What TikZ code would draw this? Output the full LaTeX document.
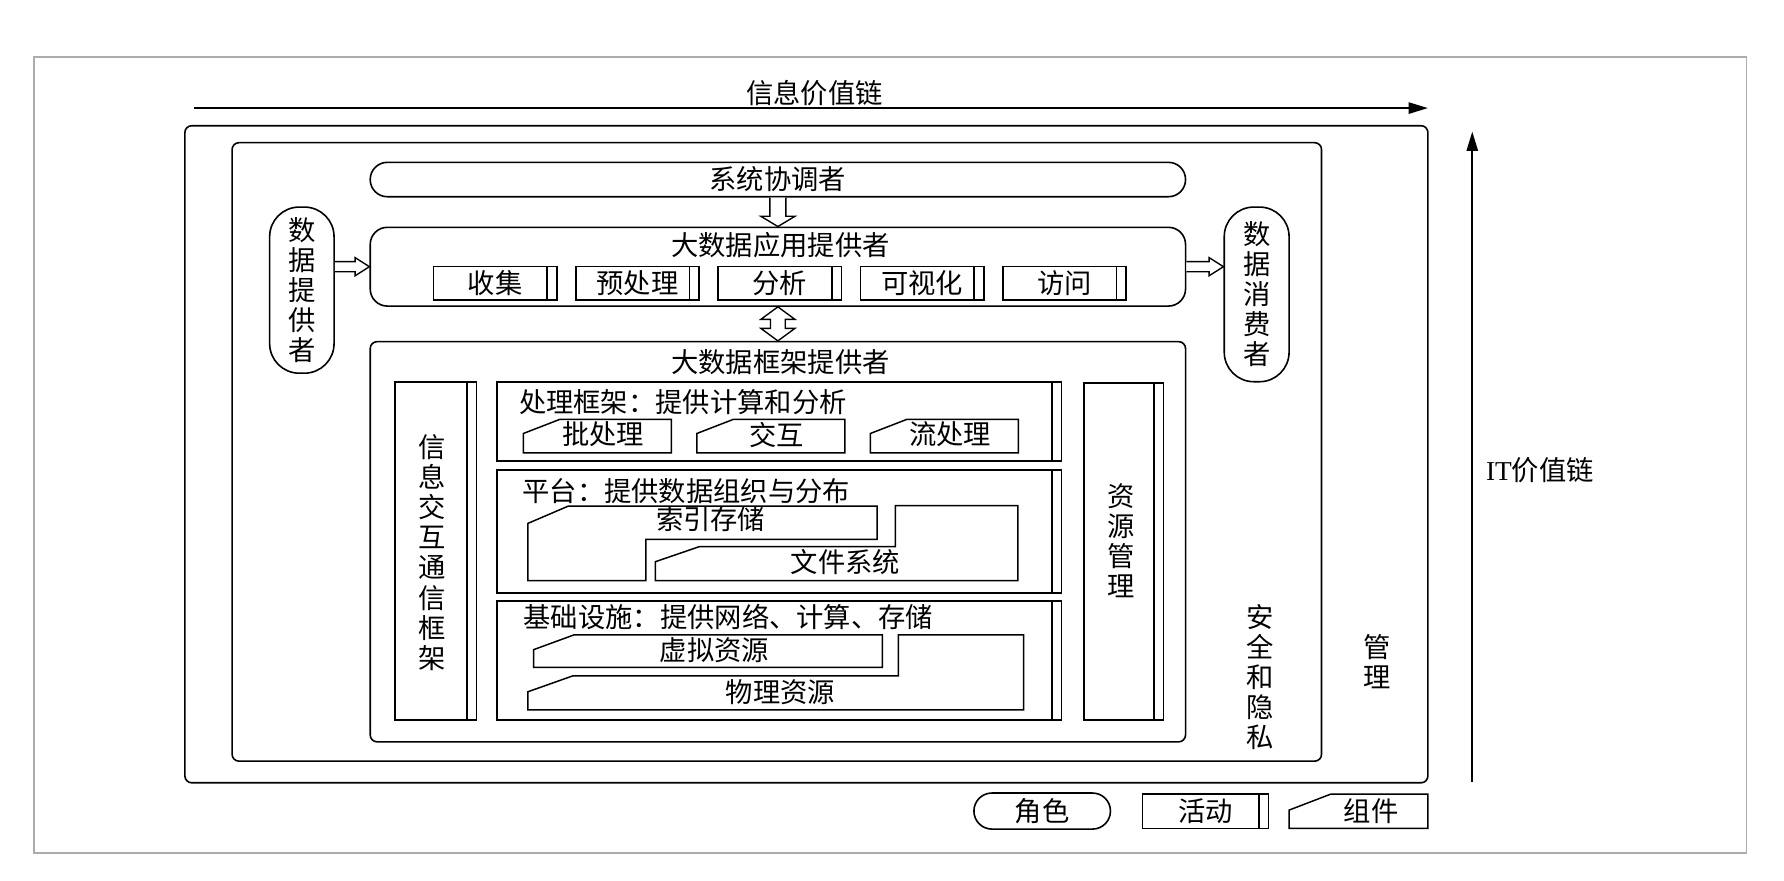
\documentclass[tikz,border=0pt]{standalone}
\usepackage{fontspec}
\setmainfont{Noto Sans CJK SC}
\newfontfamily\latinfont{Liberation Serif}
\usetikzlibrary{arrows.meta,calc,positioning}
\tikzset{%
  tipA/.tip={Triangle[length=17pt,width=10pt]},
  box/.style={draw, line width=1.4pt, inner sep=0pt},
  actbox/.style={box, path picture={\draw[line width=1.4pt] ([xshift=-8.5pt]path picture bounding box.north east) -- ([xshift=-8.5pt]path picture bounding box.south east);}},
  comp/.style={line width=1.3pt},
  hollow/.style={draw, fill=white, line width=1.2pt},
  txt/.style={inner sep=0pt},
  vtxt/.style={inner sep=0pt, align=center}
}

\begin{document}
\begin{tikzpicture}[x=1pt,y=-1pt,font=\fontsize{24}{26.4}\selectfont]
\useasboundingbox (0,0) rectangle (1568,773.5);
\draw[gray!65, line width=1.5pt] (30,50) rectangle (1535,750);
%\draw[help lines] (0,0) grid[step=100] (1568,773);
\coordinate (ivcL) at (170.5,95);
\coordinate (ivcR) at (1255,95);
\draw[line width=1.4pt, -tipA] (ivcL) -- (ivcR);
\node[txt] (ivc) at (716,82) {信息价值链};
\coordinate (itB) at (1294,687);
\coordinate (itT) at (1294,115.7);
\draw[line width=1.4pt, -tipA] (itB) -- (itT);
\node[txt, anchor=west] (itl) at (1306,413) {{\latinfont IT}价值链};
% nested frames
\node[box, rounded corners=6pt, minimum width=1092.5pt, minimum height=577.5pt] (mgmt) at (708.75,399.25) {};
\node[box, rounded corners=6pt, minimum width=957.5pt, minimum height=543.6pt] (sec) at (682.75,397.2) {};
\node[vtxt] (sectext) at (1107.5,594.8) {安\\全\\和\\隐\\私};
\node[vtxt] (mgmttext) at (1210,581.5) {管\\理};
\node[box, rounded corners=15pt, minimum width=716.6pt, minimum height=30.2pt] (sys) at (683.7,157.8) {系统协调者};
\node[box, rounded corners=15pt, minimum width=716.6pt, minimum height=69.2pt] (app) at (683.7,234.4) {};
\node[txt] (apptitle) at (686,215) {大数据应用提供者};
\foreach \i/\name/\lbl in {0/collect/收集, 1/prep/预处理, 2/analyse/分析, 3/visual/可视化, 4/access/访问}
  \node[actbox, minimum width=108.5pt, minimum height=29.3pt] (\name) at (435.25+125.1*\i,249) {\lbl};
\node[box, rounded corners=26pt, minimum width=56.6pt, minimum height=146pt, align=center] (dp) at (265.3,255) {数\\据\\提\\供\\者};
\node[box, rounded corners=26pt, minimum width=57pt, minimum height=153.5pt, align=center] (dc) at (1104.5,258.75) {数\\据\\消\\费\\者};
\node[box, rounded corners=6pt, minimum width=716.6pt, minimum height=351.7pt] (fw) at (683.7,476.15) {};
\node[txt] (fwtitle) at (686,318) {大数据框架提供者};
% framework inside
\node[actbox, minimum width=71.8pt, minimum height=297.5pt] (iex) at (382.9,484.25) {};
\node[vtxt] (iextext) at (379.4,485.7) {信\\息\\交\\互\\通\\信\\框\\架};
\node[actbox, minimum width=70.1pt, minimum height=296.6pt] (res) at (987.65,484.7) {};
\node[vtxt] (restext) at (985,475.5) {资\\源\\管\\理};
\node[actbox, minimum width=496pt, minimum height=69.5pt] (proc) at (685,370.25) {};
\node[actbox, minimum width=496pt, minimum height=108pt] (plat) at (685,467) {};
\node[actbox, minimum width=496pt, minimum height=105pt] (infra) at (685,580.5) {};
\node[txt, anchor=west] (proctitle) at (456,353) {处理框架：提供计算和分析};
\node[txt, anchor=west] (plattitle) at (459,432) {平台：提供数据组织与分布};
\node[txt, anchor=west] (infratitle) at (460,542) {基础设施：提供网络、计算、存储};
\foreach \x/\name/\lbl in {460/batch/批处理, 612.5/inter/交互, 765/stream/流处理} {
  \draw[comp] (\x,398) -- (\x,381) -- (\x+32,368.6) -- (\x+130,368.6) -- (\x+130,398) -- cycle;
  \node[txt] (\name) at (\x+70,382) {\lbl};
}
\draw[comp] (464,510.4) -- (464,460) -- (499.5,444.8) -- (771,444.8) -- (771,474) -- (567.6,474) -- (567.6,510.4) -- cycle;
\node[txt] (idx) at (624.6,456) {索引存储};
\draw[comp] (576,510.4) -- (576,493.7) -- (614.5,480.5) -- (787,480.5) -- (787,444.5) -- (894.6,444.5) -- (894.6,510.4) -- cycle;
\node[txt] (fs) at (743,494) {文件系统};
\draw[comp] (469,586.6) -- (469,571) -- (504.5,558) -- (775.5,558) -- (775.5,586.6) -- cycle;
\node[txt] (vres) at (628,571) {虚拟资源};
\draw[comp] (464,624) -- (464,608) -- (503.5,594) -- (789.6,594) -- (789.6,558) -- (899.6,558) -- (899.6,624) -- cycle;
\node[txt] (pres) at (686,608) {物理资源};
% hollow arrows
\draw[hollow] ($(sys.south)+(7,0)$) -- ($(app.north)+(7,-9)$) -- ++(8,0) -- (app.north) -- ++(-15,-9) -- ++(8,0) -- ($(sys.south)+(-7,0)$);
\draw[hollow] (app.south) -- ++(15,11) -- ++(-8.5,0) -- ($(fw.north)+(6.5,-11)$) -- ++(8.5,0) -- (fw.north) -- ++(-15,-11) -- ++(8.5,0) -- ($(app.south)+(-6.5,11)$) -- ++(-8.5,0) -- cycle;
\draw[hollow] ($(dp.east |- app.west)+(0,-4.5)$) -- ($(app.west)+(-12.6,-4.5)$) -- ++(0,-3.5) -- (app.west) -- ++(-12.6,8) -- ++(0,-3.5) -- ($(dp.east |- app.west)+(0,4.5)$);
\draw[hollow] ($(app.east)+(0,-4.5)$) -- ($(dc.west |- app.east)+(-12.6,-4.5)$) -- ++(0,-3.5) -- (dc.west |- app.east) -- ++(-12.6,8) -- ++(0,-3.5) -- ($(app.east)+(0,4.5)$);
% legend
\node[box, rounded corners=15.8pt, minimum width=120pt, minimum height=31.7pt] (keyrole) at (916,712.85) {角色};
\node[actbox, minimum width=111pt, minimum height=30pt] (keyact) at (1059.5,713) {活动};
\draw[comp] (1133,728) -- (1133,712) -- (1169.5,698) -- (1255,698) -- (1255,728) -- cycle;
\node[txt] (keycomp) at (1205,713) {组件};
\end{tikzpicture}
\end{document}
